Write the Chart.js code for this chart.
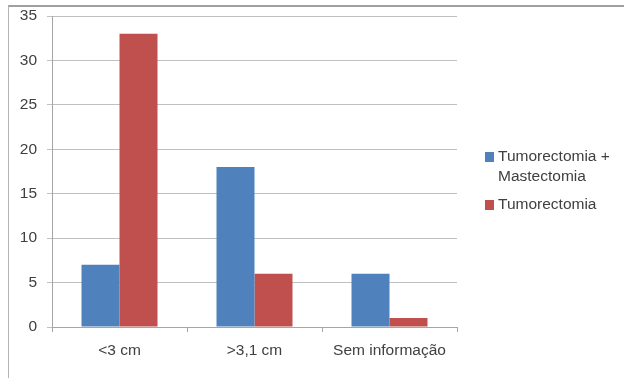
<!DOCTYPE html>
<html>
<head>
<meta charset="utf-8">
<script src="https://cdn.jsdelivr.net/npm/chart.js@4"></script>
<style>
	body { margin: 0; background: #fff; }
	#wrap { position: relative; width: 624px; height: 378px; }
	#frame { position: absolute; left: 8px; top: 5px; right: 0; bottom: 0; border-top: 2px solid #a0a0a0; border-left: 1px solid #b4b4b4; }
	#legend { position: absolute; left: 485px; top: 146px; font-family: "Liberation Sans", sans-serif; font-size: 15.5px; color: #404040; }
	.item { position: relative; padding-left: 13px; line-height: 20px; margin-bottom: 8px; }
	.box { position: absolute; left: 0; top: 6px; width: 9px; height: 10px; }
</style>
</head>
<body>
<div id="wrap">
	<div id="frame"></div>
	<canvas id="mycanvas" width="624" height="378"></canvas>
	<div id="legend"></div>
</div>
<script>
var categories = ['<3 cm', '>3,1 cm', 'Sem informação'];
var seriesNames = [['Tumorectomia +', 'Mastectomia'], ['Tumorectomia']];
var tumorMastectomia = [7, 18, 6];
var tumorectomia = [33, 6, 1];
var yTicks = [0, 5, 10, 15, 20, 25, 30, 35];

var colors = ['#4f81bd', '#c0504d'];

var chartdata = {
	labels: categories,
	datasets: [
		{ label: seriesNames[0].join(' '), backgroundColor: colors[0], data: tumorMastectomia },
		{ label: seriesNames[1].join(' '), backgroundColor: colors[1], data: tumorectomia }
	]
};

var ctx = document.getElementById('mycanvas');

var barGraph = new Chart(ctx, {
	type: 'bar',
	data: chartdata,
	options: {
		responsive: false,
		animation: false,
		datasets: { bar: { barPercentage: 1, categoryPercentage: 0.563 } },
		layout: { autoPadding: false, padding: { left: 0, right: 167, top: 16, bottom: 10 } },
		plugins: { legend: { display: false }, tooltip: { enabled: false } },
		scales: {
			x: {
				afterFit: function(s) { s.height = 41; s.paddingLeft = 0; s.paddingRight = 0; },
				grid: { drawOnChartArea: false, tickLength: 5, color: '#a6a6a6', offset: true },
				border: { color: '#a6a6a6' },
				ticks: { color: '#404040', padding: 9, font: { family: 'Liberation Sans', size: 15.5 } }
			},
			y: {
				min: 0,
				max: 35,
				afterFit: function(s) { s.width = 52; s.paddingTop = 0; s.paddingBottom = 0; },
				afterBuildTicks: function(s) { s.ticks = yTicks.map(function(v) { return { value: v }; }); },
				grid: { color: '#c0c0c0', tickLength: 5 },
				border: { color: '#a6a6a6' },
				ticks: { color: '#404040', padding: 10, font: { family: 'Liberation Sans', size: 15.5 } }
			}
		}
	}
});

// legend with the two-line first label, as in the original
var legend = document.getElementById('legend');
for (var i = 0; i < seriesNames.length; i++) {
	var item = document.createElement('div');
	item.className = 'item';
	item.innerHTML = '<span class="box" style="background:' + colors[i] + '"></span>' + seriesNames[i].join('<br>');
	legend.appendChild(item);
}
</script>
</body>
</html>
